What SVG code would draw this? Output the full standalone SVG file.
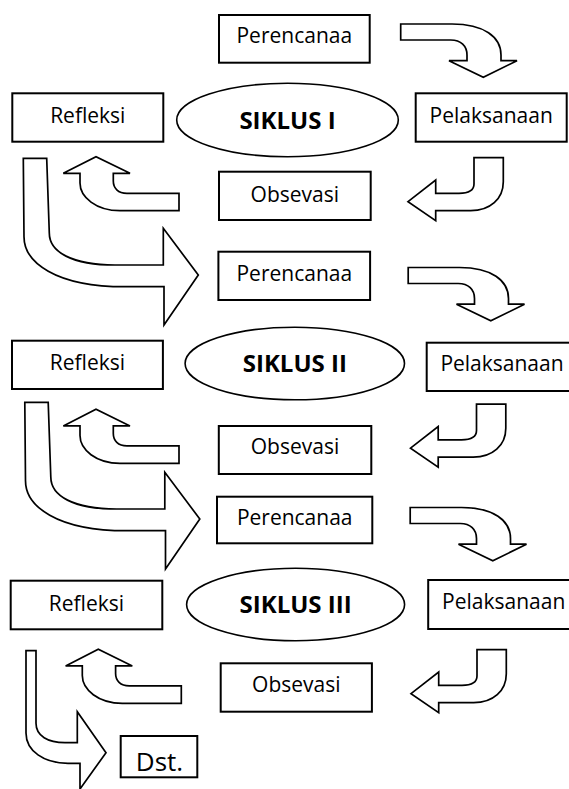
<svg xmlns="http://www.w3.org/2000/svg" width="569" height="789" viewBox="0 0 569 789">
<style>
.box{fill:#fff;stroke:#000;stroke-width:2}
.ell{fill:#fff;stroke:#000;stroke-width:1.6}
.arr{fill:#fff;stroke:#000;stroke-width:1.7;stroke-linejoin:miter}
.t{font-family:"Open Sans","Liberation Sans",sans-serif;font-size:21px;text-anchor:middle;fill:#000}
.b{font-weight:bold;font-size:24px}
.d{font-size:26px}
</style>
<defs>
<path id="arrTR" d="M400.7,24 H452 C484,24 501,37 501,55 V60.7 H517 L483.3,77.3 L449,60.7 H467 V55 C467,46 461,40 450.7,40 H400.7 Z"/>
<path id="arrR" d="M474,157.7 H503.3 V181.7 C503.3,199 490,210.7 470.7,210.7 H435.7 V220.7 L408,201.7 L435.7,180 V193.3 H459 C469,193.3 474,190 474,184 Z"/>
<path id="arrUL" d="M179,193.3 V210.7 H120 C96,210.7 80,197 80,183 V173.3 H63.3 L96,156.7 L130,173.3 H113.3 V181 C113.3,188 118,193.3 127,193.3 Z"/>
<path id="arrBig" d="M23.3,158.3 H46.7 L49.3,233 C49.3,252 72,265 115,265 H163.3 V228.3 L198.3,275 L164,325 V286.7 H125 C55,286.7 24,262 24,236.7 Z"/>
</defs>
<g id="connectors" class="arr">
<use href="#arrTR"/>
<use href="#arrR"/>
<use href="#arrUL"/>
<use href="#arrBig"/>
<use href="#arrTR" transform="translate(7.5,243.5)"/>
<use href="#arrR" transform="translate(2.5,246.5)"/>
<use href="#arrUL" transform="translate(0,252.6)"/>
<use href="#arrBig" transform="translate(1.5,244)"/>
<use href="#arrTR" transform="translate(9.5,483.5)"/>
<use href="#arrR" transform="translate(3,492)"/>
<use href="#arrUL" transform="translate(2.3,492.6)"/>
<path id="arrLast" d="M26,650.7 H36 V723.3 C36,736 48,742.7 65,742.7 H77.3 V711.7 L106,752.7 L80,789 V763.3 H68 C44,763.3 26,751 26,733 Z"/>
</g>
<g id="perencanaa1"><rect class="box" x="219" y="15" width="150.7" height="47.7"/><text class="t" x="294.3" y="43.3">Perencanaa</text></g>
<g id="refleksi1"><rect class="box" x="12.3" y="93.3" width="151" height="48.4"/><text class="t" x="87.8" y="122.7">Refleksi</text></g>
<g id="siklus1"><ellipse class="ell" cx="287.5" cy="120" rx="110.8" ry="36.7"/><text class="t b" x="287.5" y="128.5">SIKLUS I</text></g>
<g id="pelaksanaan1"><rect class="box" x="415.7" y="93.3" width="151" height="48.4"/><text class="t" x="491.2" y="122.7">Pelaksanaan</text></g>
<g id="obsevasi1"><rect class="box" x="219" y="171.7" width="151.7" height="48.3"/><text class="t" x="294.8" y="202">Obsevasi</text></g>

<g id="perencanaa2"><rect class="box" x="218.4" y="251.7" width="151.7" height="48.3"/><text class="t" x="294.3" y="280.7">Perencanaa</text></g>
<g id="refleksi2"><rect class="box" x="12" y="340.7" width="150.9" height="48.3"/><text class="t" x="87.5" y="369.7">Refleksi</text></g>
<g id="siklus2"><ellipse class="ell" cx="294.8" cy="363.5" rx="109.7" ry="36.3"/><text class="t b" x="294.8" y="372">SIKLUS II</text></g>
<g id="pelaksanaan2"><rect class="box" x="426.7" y="342.7" width="151" height="48.3"/><text class="t" x="502" y="370.7">Pelaksanaan</text></g>
<g id="obsevasi2"><rect class="box" x="218.8" y="426" width="152.5" height="48"/><text class="t" x="295" y="454">Obsevasi</text></g>

<g id="perencanaa3"><rect class="box" x="217" y="496.7" width="155.3" height="46.6"/><text class="t" x="294.7" y="525">Perencanaa</text></g>
<g id="refleksi3"><rect class="box" x="10.7" y="580.7" width="151.6" height="48.6"/><text class="t" x="86.5" y="610.7">Refleksi</text></g>
<g id="siklus3"><ellipse class="ell" cx="295.6" cy="604.5" rx="109" ry="36.2"/><text class="t b" x="295.6" y="613">SIKLUS III</text></g>
<g id="pelaksanaan3"><rect class="box" x="428.2" y="580" width="151" height="49"/><text class="t" x="503.7" y="609">Pelaksanaan</text></g>
<g id="obsevasi3"><rect class="box" x="220.7" y="663.3" width="151.2" height="48.4"/><text class="t" x="296.3" y="692.3">Obsevasi</text></g>
<g id="dst"><rect class="box" x="120.7" y="736" width="76.6" height="41.3"/><text class="t d" x="159.5" y="770.7">Dst.</text></g>
</svg>
